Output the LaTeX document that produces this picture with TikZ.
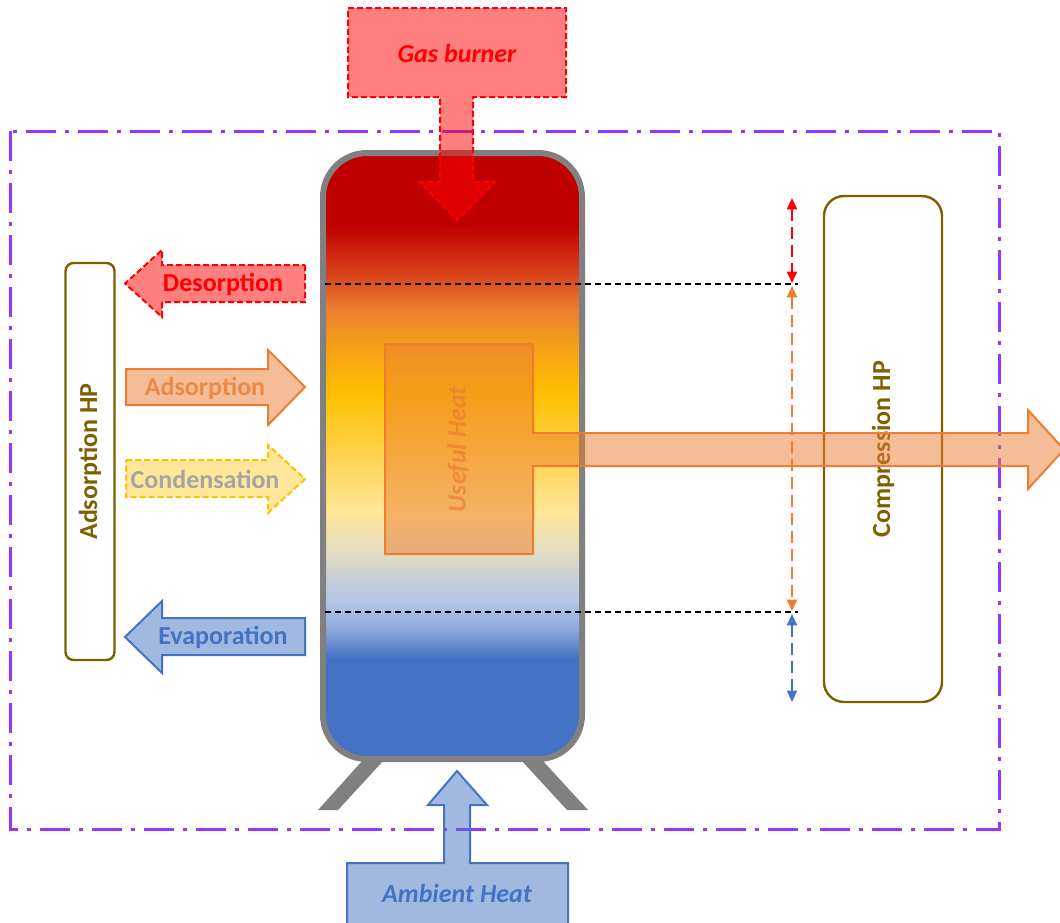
\documentclass[tikz,border=0pt]{standalone}
\usepackage{fontspec}
\setmainfont{Carlito}
\usetikzlibrary{arrows.meta}
\definecolor{cPurple}{HTML}{9933FF}
\definecolor{cBrown}{HTML}{7F6000}
\definecolor{cOrange}{HTML}{ED7D31}
\definecolor{cBlue}{HTML}{4472C4}
\definecolor{cGoldL}{HTML}{FFC000}
\definecolor{cGrayT}{HTML}{A5A5A5}
\definecolor{cGray}{HTML}{808080}
\definecolor{cYellowF}{HTML}{FFE699}
\definecolor{cB}{HTML}{4472C4}
\definecolor{cBb}{HTML}{8FAADC}
\definecolor{cLB}{HTML}{B4C7E7}
\definecolor{cGB}{HTML}{C4CCD8}
\definecolor{cBe}{HTML}{DEDCC4}
\definecolor{cYa}{HTML}{FFE699}
\definecolor{cYb}{HTML}{FFD966}
\definecolor{cYc}{HTML}{FFCC33}
\definecolor{cGold}{HTML}{FFC000}
\definecolor{cOb}{HTML}{F39C1A}
\definecolor{cOr}{HTML}{ED7D31}
\definecolor{cRO}{HTML}{D9431A}
\definecolor{cDR}{HTML}{C00000}
\pgfdeclareverticalshading{tankshade}{100bp}{color(0bp)=(cB); color(33.33bp)=(cB); color(35.78bp)=(cBb); color(37.99bp)=(cLB); color(39.62bp)=(cGB); color(41.75bp)=(cBe); color(45.34bp)=(cYa); color(48.61bp)=(cYb); color(51.88bp)=(cYc); color(55.15bp)=(cGold); color(59.48bp)=(cOb); color(62.17bp)=(cOr); color(64.95bp)=(cRO); color(69.04bp)=(cDR); color(100bp)=(cDR)}
\tikzset{
  lbl/.style={font=\fontsize{19.5}{23}\selectfont\bfseries, inner sep=0pt},
  ilbl/.style={font=\fontsize{19.5}{23}\selectfont\bfseries\itshape, inner sep=0pt},
  redshape/.style={fill=red, fill opacity=0.5, draw=red, draw opacity=1, line width=1.5pt, dash pattern=on 4.5pt off 2.25pt, line join=miter},
  blueshape/.style={fill=cBlue, fill opacity=0.5, draw=cBlue, draw opacity=1, line width=1.5pt},
  orangeshape/.style={fill=cOrange, fill opacity=0.5, draw=cOrange, draw opacity=1, line width=1.5pt},
  yellowshape/.style={fill=cYellowF, draw=cGoldL, line width=1.5pt, dash pattern=on 4.5pt off 2.25pt},
  hpbox/.style={draw=cBrown, line width=1.8pt, fill=white},
  levelline/.style={draw=black, line width=1pt, dash pattern=on 4.5pt off 3pt},
  rangearrow/.style={line width=1.5pt, dash pattern=on 9pt off 4.5pt, {Triangle[length=8.5pt,width=7.5pt]}-{Triangle[length=8.5pt,width=7.5pt]}},
  leg/.style={fill=cGray, draw=none}
}
\begin{document}
\begin{tikzpicture}[x=0.75pt,y=-0.75pt]
\useasboundingbox (0,0) rectangle (1060,922);
\clip (0,0) rectangle (1060,922);
\fill[white] (0,0) rectangle (1060,922);

% system boundary
\draw[cPurple, line width=2.25pt, dash pattern=on 22.5pt off 7pt on 2.5pt off 7pt] (10,131) rectangle (999,829);

% tank legs
\fill[leg] (363,760) -- (384,760) -- (338,810) -- (318,810) -- cycle;
\fill[leg] (521,760) -- (542,760) -- (588,810) -- (567,810) -- cycle;

% tank
\node[draw=cGray, line width=4.5pt, rounded corners=33pt, minimum width=194.25pt, minimum height=454.5pt, inner sep=0pt, shading=tankshade] (tank) at (452.5,456) {};

% level lines
\coordinate (tl) at (325,284);
\coordinate (tr) at (798,284);
\coordinate (bl) at (325,612);
\coordinate (br) at (798,612);
\draw[levelline] (tl) -- (tr);
\draw[levelline] (bl) -- (br);

% range arrows
\coordinate (ra) at (792,198);
\coordinate (rb) at (792,283);
\coordinate (oa) at (792,286);
\coordinate (ob) at (792,611);
\coordinate (ba) at (792,614);
\coordinate (bb) at (792,702);
\draw[rangearrow, red] (ra) -- (rb);
\draw[rangearrow, cOrange] (oa) -- (ob);
\draw[rangearrow, cBlue] (ba) -- (bb);

% compression HP
\node[hpbox, rounded corners=15pt, minimum width=88.5pt, minimum height=379.5pt, inner sep=0pt] (comp) at (883,449) {};
\node[lbl, text=cBrown, rotate=90] (comptxt) at (comp.center) {Compression HP};

% adsorption HP
\node[hpbox, rounded corners=6pt, minimum width=36.75pt, minimum height=297.75pt, inner sep=0pt] (adshp) at (90,461.5) {};
\node[lbl, text=cBrown, rotate=90] (adshptxt) at (adshp.center) {Adsorption HP};

% useful heat
\draw[orangeshape] (385,344) -- (533,344) -- (533,433) -- (1028,433) -- (1028,410) -- (1064,449.5) -- (1028,489) -- (1028,466) -- (533,466) -- (533,554) -- (385,554) -- cycle;
\node[ilbl, text=cOrange, text opacity=0.7, rotate=90] (useful) at (458,449) {Useful Heat};

% gas burner
\draw[redshape] (348,8) -- (566,8) -- (566,97) -- (473,97) -- (473,182) -- (495,182) -- (457,220) -- (420,182) -- (440,182) -- (440,97) -- (348,97) -- cycle;
\node[ilbl, text=red] (gas) at (457,53) {Gas burner};

% ambient heat
\draw[blueshape] (347,935) -- (347,863) -- (444,863) -- (444,805) -- (428,805) -- (457,771) -- (487,805) -- (470,805) -- (470,863) -- (568,863) -- (568,935);
\node[ilbl, text=cBlue] (amb) at (457,893) {Ambient Heat};

% desorption
\draw[redshape] (305,265) -- (305,302) -- (162,302) -- (162,317) -- (125,283.5) -- (162,250) -- (162,265) -- cycle;
\node[lbl, text=red] (des) at (223,284) {Desorption};

% adsorption
\draw[orangeshape] (126,369) -- (268,369) -- (268,350) -- (305,387) -- (268,425) -- (268,405) -- (126,405) -- cycle;
\node[lbl, text=cOrange, text opacity=0.8] (ads) at (205,388) {Adsorption};

% condensation
\draw[yellowshape] (126,460) -- (268,460) -- (268,445) -- (305,479) -- (268,513) -- (268,497) -- (126,497) -- cycle;
\node[lbl, text=cGrayT] (cond) at (205,479) {Condensation};

% evaporation
\draw[blueshape] (305,618) -- (305,655) -- (162,655) -- (162,673) -- (125,637) -- (162,601) -- (162,618) -- cycle;
\node[lbl, text=cBlue] (evap) at (223,637) {Evaporation};
\end{tikzpicture}
\end{document}
